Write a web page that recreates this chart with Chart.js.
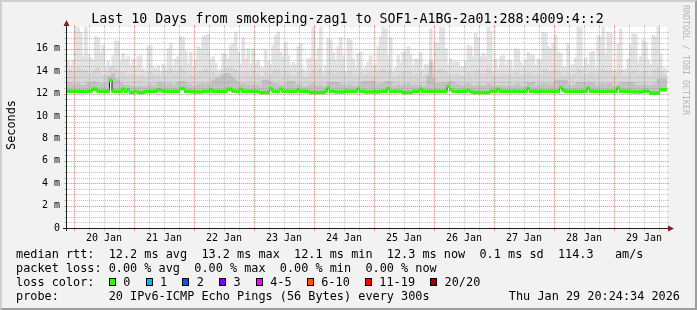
<!DOCTYPE html>
<html>
<head>
<meta charset="utf-8">
<title>smokeping</title>
<script src="https://cdn.jsdelivr.net/npm/chart.js@4.4.1/dist/chart.umd.min.js"></script>
<style>
  html, body { margin: 0; padding: 0; }
  body { position: relative; width: 697px; height: 310px; overflow: hidden; background: #f2f2f2;
         font-family: "DejaVu Sans Mono", monospace; color: #000; }
  #frame { position: absolute; left: 0; top: 0; width: 697px; height: 310px; box-sizing: border-box;
           border: 2px solid; border-color: #cfcfcf #9e9e9e #9e9e9e #cfcfcf; }
  #chart { position: absolute; left: 0; top: 0; }
  .t { position: absolute; white-space: pre; font-size: 11.85px; line-height: 14px; }
  #title { left: 0; width: 695px; top: 11px; text-align: center; font-size: 13.3px; line-height: 16px; }
  #unit { left: -14px; top: 118px; width: 50px; text-align: center; transform: rotate(-90deg); }
  #mark { left: 631px; top: 55px; width: 110px; text-align: center; font-size: 8.3px; line-height: 10px;
          color: rgba(0,0,0,0.28); transform: rotate(90deg); }
  #lossItems { position: absolute; left: 109px; top: 275px; height: 14px; display: flex; align-items: center;
               white-space: pre; font-size: 11.85px; line-height: 14px; }
  .box { width: 7px; height: 8px; box-sizing: border-box; border: 1px solid #000; margin-right: 7.3px; }
  .lbl { margin-right: 15.3px; }
</style>
</head>
<body>
<div id="frame"></div>
<canvas id="chart" width="697" height="310"></canvas>
<div class="t" id="title">Last 10 Days from smokeping-zag1 to SOF1-A1BG-2a01:288:4009:4::2</div>
<div class="t" id="unit">Seconds</div>
<div class="t" id="mark">RRDTOOL / TOBI OETIKER</div>
<div class="t" style="left:16px; top:247px;">median rtt:  12.2 ms avg  13.2 ms max  12.1 ms min  12.3 ms now  0.1 ms sd  114.3   am/s</div>
<div class="t" style="left:16px; top:261px;">packet loss: 0.00 % avg  0.00 % max  0.00 % min  0.00 % now</div>
<div class="t" style="left:16px; top:275px;">loss color:</div>
<div id="lossItems"></div>
<div class="t" style="left:16px; top:289px;">probe:       20 IPv6-ICMP Echo Pings (56 Bytes) every 300s</div>
<div class="t" style="right:17px; top:289px;">Thu Jan 29 20:24:34 2026</div>
<script>
// one column per hour, first column starts 19 Jan 21:12
var hourStart = 21.2;
var dayLabels = ["20 Jan", "21 Jan", "22 Jan", "23 Jan", "24 Jan", "25 Jan", "26 Jan", "27 Jan", "28 Jan", "29 Jan"];

// top of the smoke (slowest ping), ms
var maxRtt = [
  14.9,14.5,15.0,18.0,17.9,17.5,15.3,18.0,15.5,15.2, 15.0,17.1,17.0,15.7,16.3,14.4,14.9,14.2,15.4,16.7,
  16.7,15.0,15.6,15.1,15.3,14.5,15.1,14.4,15.3,15.4, 14.2,14.0,16.2,16.3,14.4,14.2,14.5,14.0,14.6,14.3,
  16.0,16.5,14.5,15.1,15.3,17.1,17.0,15.8,14.7,15.7, 14.4,15.0,16.2,16.0,17.1,17.2,17.3,15.1,15.3,14.7,
  14.1,14.2,15.6,15.5,15.1,16.3,16.5,17.5,15.7,14.6, 17.0,15.1,16.0,14.6,16.0,14.7,15.0,14.4,14.3,15.9,
  14.9,14.6,16.3,17.2,17.5,15.7,15.3,16.6,15.4,14.5, 14.8,14.6,16.2,16.5,14.2,14.0,15.1,15.2,18.0,15.0,
  16.0,17.9,13.9,14.5,16.9,16.8,15.7,15.0,16.2,17.0, 15.4,13.9,16.9,16.8,15.1,14.3,15.6,15.7,14.2,14.4,
  14.8,15.4,14.5,14.6,16.2,17.1,17.9,17.8,15.4,17.0, 13.9,14.3,15.4,14.8,15.7,15.8,16.2,15.5,14.5,15.1,
  15.1,15.7,14.2,14.6,14.5,17.8,14.8,16.6,16.5,18.0, 17.9,16.0,14.5,15.1,14.8,14.9,14.8,14.4,14.4,14.9,
  16.3,16.2,15.3,17.4,17.0,15.3,15.6,15.4,18.0,17.6, 14.0,15.1,14.2,15.3,15.4,14.5,15.0,14.9,14.2,16.0,
  15.9,14.8,14.5,15.0,15.7,15.5,15.4,14.5,15.1,15.0, 17.5,17.4,16.2,16.0,16.5,17.2,15.7,15.6,14.4,14.4,
  16.5,14.5,14.6,15.2,18.0,17.9,14.4,15.2,14.6,15.7, 15.8,14.3,17.2,17.1,18.0,15.5,17.5,17.4,14.0,14.1,
  16.5,17.8,14.1,14.2,15.1,16.4,17.4,17.3,14.8,15.3, 16.8,16.6,15.0,14.6,17.2,17.1,18.0,15.5,14.3,14.2
];

// top of the denser smoke band, ms
var upperRtt = [
  13.9,14.1,13.8,14.0,14.3,14.2,13.9,14.1,13.8,13.7, 13.9,14.2,14.3,13.8,13.6,13.7,14.0,14.4,14.4,14.2,
  14.0,13.8,13.9,13.6,13.7,13.5,13.8,13.6,13.5,13.7, 13.6,13.4,13.9,14.0,13.7,13.6,13.8,13.5,13.9,13.6,
  14.0,14.2,13.7,13.8,13.9,14.3,14.1,13.9,13.6,13.8, 13.5,13.7,14.0,13.9,14.1,14.2,14.0,13.8,13.9,13.7,
  13.6,13.8,14.1,14.2,14.3,14.4,14.2,14.1,13.9,13.7, 13.9,13.8,13.9,13.6,14.0,13.7,13.8,13.5,13.6,13.9,
  13.8,13.7,14.0,14.2,14.1,13.8,13.7,14.0,13.9,13.6, 13.7,13.6,13.9,14.0,13.5,13.4,13.7,13.8,14.1,13.8,
  13.9,14.2,13.4,13.6,14.0,14.1,13.8,13.7,13.9,14.0, 13.8,13.5,13.9,14.0,13.7,13.5,13.8,13.9,13.6,13.7,
  13.8,13.9,13.6,13.7,13.9,14.1,14.2,14.0,13.9,14.1, 13.5,13.6,13.8,13.7,13.9,13.8,14.0,13.9,13.6,13.8,
  13.7,13.9,13.5,13.7,13.8,15.0,13.7,14.0,14.1,14.2, 14.1,13.9,13.6,13.7,13.6,13.8,13.7,13.5,13.6,13.7,
  13.9,13.8,13.7,14.0,14.1,13.8,13.7,13.8,14.2,14.0, 13.5,13.7,13.5,13.8,13.7,13.6,13.7,13.8,13.5,13.9,
  13.8,13.7,13.6,13.8,13.9,13.8,13.7,13.6,13.8,13.7, 14.1,14.2,13.9,13.8,14.0,14.1,14.0,13.9,13.7,13.6,
  13.9,13.6,13.7,13.8,14.2,14.1,13.6,13.8,13.7,13.9, 13.8,13.6,14.0,14.1,14.2,13.8,14.0,14.1,13.5,13.6,
  13.9,14.1,13.5,13.6,13.8,13.9,14.0,14.1,13.7,13.8, 13.9,14.0,13.7,13.6,14.1,14.0,14.3,14.0,13.7,13.6
];

// top of the darkest smoke just above the median, ms
var denseRtt = [
  13.0,12.9,12.8,12.8,12.9,12.8,12.7,12.8,13.0,13.0, 13.1,13.0,13.0,12.8,12.9,12.8,13.5,13.6,13.8,13.4,
  13.2,12.9,12.8,12.7,12.8,12.6,12.7,12.6,12.6,12.7, 12.6,12.6,12.8,12.8,12.7,12.7,13.0,13.0,12.9,12.8,
  12.8,12.9,12.7,12.8,13.0,13.1,13.1,13.0,12.8,12.8, 12.6,12.7,12.8,12.8,12.9,12.8,12.9,12.8,13.2,13.3,
  13.4,13.5,13.7,13.8,13.8,13.6,13.4,13.2,13.0,12.8, 12.9,12.8,12.8,12.7,12.8,12.7,12.8,12.6,13.2,13.2,
  13.2,13.1,12.9,12.9,12.8,12.8,12.7,12.8,13.1,13.1, 13.1,12.8,12.8,12.8,12.6,12.6,12.7,12.8,12.9,12.7,
  12.7,12.8,12.6,12.7,13.0,13.0,13.0,13.0,13.0,12.8, 12.8,12.6,12.8,12.8,12.7,12.6,12.8,12.9,13.1,13.1,
  13.1,13.1,13.1,12.8,12.8,12.9,12.9,13.1,13.1,13.1, 12.6,12.7,12.8,12.7,12.8,12.8,12.9,12.8,12.7,12.8,
  12.7,12.8,12.6,12.7,13.6,14.8,13.4,12.9,12.9,12.9, 13.0,13.0,13.0,13.1,13.0,12.8,12.8,12.7,12.7,12.8,
  12.9,12.8,12.6,12.7,12.8,12.7,12.7,12.7,12.9,12.8, 12.6,12.7,12.7,12.7,12.7,12.6,12.7,12.7,12.6,12.8,
  12.8,12.7,12.6,12.7,13.0,13.0,13.0,12.7,12.8,12.7, 12.9,12.9,12.8,12.8,12.9,13.2,13.2,13.2,13.2,13.2,
  12.8,12.7,12.7,12.8,13.0,13.0,13.0,13.0,13.0,13.0, 13.0,12.7,12.8,12.8,12.9,12.8,12.9,12.9,12.6,12.7,
  12.8,12.9,13.0,13.0,13.0,13.0,13.0,12.8,12.7,12.7, 12.8,12.8,12.7,12.6,12.8,12.8,13.3,13.3,13.3,13.3
];

// median rtt, ms
var medianRtt = [
  12.2,12.2,12.2,12.2,12.2,12.2,12.2,12.2,12.2,12.2, 12.4,12.4,12.2,12.2,12.2,12.2,12.2,13.2,12.2,12.2,
  12.2,12.2,12.4,12.2,12.35,12.1,12.1,12.2,12.1,12.1, 12.1,12.2,12.2,12.2,12.2,12.2,12.35,12.3,12.2,12.2,
  12.2,12.2,12.2,12.2,12.2,12.45,12.45,12.2,12.2,12.2, 12.15,12.15,12.15,12.15,12.2,12.2,12.2,12.35,12.2,12.2,
  12.2,12.2,12.2,12.2,12.4,12.4,12.2,12.2,12.2,12.4, 12.2,12.2,12.2,12.2,12.2,12.2,12.2,12.1,12.1,12.1,
  12.1,12.45,12.2,12.2,12.2,12.4,12.2,12.2,12.2,12.2, 12.2,12.2,12.35,12.2,12.2,12.2,12.2,12.1,12.1,12.1,
  12.1,12.1,12.1,12.2,12.5,12.2,12.2,12.15,12.15,12.15, 12.15,12.2,12.2,12.2,12.2,12.2,12.4,12.2,12.2,12.15,
  12.15,12.15,12.15,12.15,12.15,12.2,12.2,12.2,12.45,12.2, 12.2,12.2,12.2,12.2,12.1,12.1,12.1,12.1,12.2,12.2,
  12.2,12.4,12.2,12.2,12.2,12.2,12.2,12.2,12.2,12.2, 12.2,12.2,12.65,12.35,12.2,12.2,12.2,12.2,12.2,12.2,
  12.3,12.2,12.1,12.1,12.1,12.1,12.1,12.1,12.1,12.2, 12.2,12.2,12.4,12.2,12.2,12.2,12.2,12.2,12.2,12.2,
  12.2,12.2,12.2,12.2,12.45,12.2,12.2,12.2,12.2,12.2, 12.2,12.2,12.2,12.2,12.2,12.2,12.2,12.55,12.3,12.2,
  12.2,12.2,12.2,12.2,12.2,12.2,12.2,12.2,12.5,12.2, 12.2,12.2,12.2,12.2,12.2,12.2,12.2,12.2,12.2,12.2,
  12.5,12.2,12.2,12.2,12.2,12.2,12.15,12.15,12.15,12.15, 12.2,12.2,12.2,12.05,12.05,12.05,12.05,12.35,12.35,12.35
];

var lossLabels = ["0", "1", "2", "3", "4-5", "6-10", "11-19", "20/20"];
var lossColors = ["#26ff00", "#00b8ff", "#0059ff", "#7e00ff", "#ff00ff", "#ff5500", "#ff0000", "#a10000"];

// grid: a faint solid line with stronger dots on it
var minorLine = "rgba(143,143,143,0.1)";
var minorDot = "rgba(143,143,143,0.42)";
var majorLine = "rgba(240,100,100,0.18)";
var majorDot = "rgba(240,100,100,0.6)";

// legend swatches
var lossItems = document.getElementById("lossItems");
lossLabels.forEach(function (l, i) {
  var b = document.createElement("span");
  b.className = "box";
  b.style.background = lossColors[i];
  var s = document.createElement("span");
  s.className = "lbl";
  s.textContent = l;
  lossItems.appendChild(b);
  lossItems.appendChild(s);
});

function band(lo, hi) {
  return hi.map(function (v, i) { return { x: hourStart + i + 0.5, y: [lo[i], v] }; });
}
var halfLine = 0.12;
var medianBand = medianRtt.map(function (m, i) { return { x: hourStart + i + 0.5, y: [m - halfLine, m + halfLine] }; });
var medianLine = medianRtt.map(function (m, i) { return { x: hourStart + i + 0.5, y: m }; });

var barOpts = { type: "bar", grouped: false, barThickness: 3, borderWidth: 0 };

var plotBg = {
  id: "plotBg",
  beforeDraw: function (chart) {
    var a = chart.chartArea, ctx = chart.ctx;
    ctx.save();
    ctx.fillStyle = "#ffffff";
    ctx.fillRect(a.left, a.top, a.right - a.left, a.bottom - a.top);
    ctx.restore();
  }
};

function gridLine(ctx, x1, y1, x2, y2, line, dot) {
  ctx.setLineDash([]);
  ctx.strokeStyle = line;
  ctx.beginPath(); ctx.moveTo(x1, y1); ctx.lineTo(x2, y2); ctx.stroke();
  ctx.setLineDash([1, 1]);
  ctx.strokeStyle = dot;
  ctx.beginPath(); ctx.moveTo(x1, y1); ctx.lineTo(x2, y2); ctx.stroke();
  ctx.setLineDash([]);
}

// rrdtool look: dotted grid over the smoke, then axes and arrows
var frameLines = {
  id: "frameLines",
  afterDraw: function (chart) {
    var a = chart.chartArea, ctx = chart.ctx;
    var xs = chart.scales.x, ys = chart.scales.y;
    var L = Math.round(a.left), R = Math.round(a.right), T = Math.round(a.top), B = Math.round(a.bottom);
    ctx.save();
    ctx.lineWidth = 1;
    ys.ticks.forEach(function (t) {
      if (t.value === 0) return;
      var y = Math.round(ys.getPixelForValue(t.value)) + 0.5;
      var major = t.value % 2 === 0;
      gridLine(ctx, L, y, R, y, major ? majorLine : minorLine, major ? majorDot : minorDot);
      ctx.strokeStyle = major ? majorDot : minorDot;
      ctx.beginPath(); ctx.moveTo(L - 3, y); ctx.lineTo(L, y); ctx.moveTo(R, y); ctx.lineTo(R + 2, y); ctx.stroke();
    });
    xs.ticks.forEach(function (t) {
      var x = Math.round(xs.getPixelForValue(t.value)) + 0.5;
      var major = Math.round(t.value) % 24 === 0;
      gridLine(ctx, x, T, x, B, major ? majorLine : minorLine, major ? majorDot : minorDot);
      ctx.strokeStyle = major ? majorDot : minorDot;
      ctx.beginPath(); ctx.moveTo(x, B); ctx.lineTo(x, B + 3); ctx.moveTo(x, T - 2); ctx.lineTo(x, T); ctx.stroke();
    });
    ctx.strokeStyle = "#1f1f1f";
    ctx.beginPath();
    ctx.moveTo(L - 4, B + 0.5); ctx.lineTo(R + 4, B + 0.5);
    ctx.moveTo(L - 0.5, B + 3); ctx.lineTo(L - 0.5, T - 4);
    ctx.stroke();
    ctx.fillStyle = "#802020";
    ctx.beginPath();
    ctx.moveTo(L - 0.5, T - 7); ctx.lineTo(L - 3.5, T - 1); ctx.lineTo(L + 2.5, T - 1);
    ctx.closePath(); ctx.fill();
    ctx.beginPath();
    ctx.moveTo(R + 7, B + 0.5); ctx.lineTo(R + 1, B - 2.5); ctx.lineTo(R + 1, B + 3.5);
    ctx.closePath(); ctx.fill();
    ctx.restore();
  }
};

var tickFont = { family: "DejaVu Sans Mono", size: 10 };

new Chart(document.getElementById("chart"), {
  type: "bar",
  data: {
    datasets: [
      Object.assign({ label: "median", data: medianBand, backgroundColor: lossColors[0], order: 1 }, barOpts),
      { type: "line", label: "median line", data: medianLine, stepped: "middle", borderColor: "#202020",
        borderWidth: 1, pointRadius: 0, fill: false, order: 2 },
      Object.assign({ label: "dense", data: band(medianRtt, denseRtt), backgroundColor: "#c2c2c2", order: 3 }, barOpts),
      Object.assign({ label: "upper", data: band(denseRtt, upperRtt), backgroundColor: "#d7d7d7", order: 4 }, barOpts),
      Object.assign({ label: "max", data: band(upperRtt, maxRtt), backgroundColor: "#e3e3e3", order: 5 }, barOpts)
    ]
  },
  options: {
    responsive: false,
    animation: false,
    devicePixelRatio: 1,
    layout: { padding: { left: 0, top: 27, right: 30, bottom: 0 } },
    plugins: { legend: { display: false }, tooltip: { enabled: false }, title: { display: false } },
    scales: {
      x: {
        type: "linear",
        min: hourStart,
        max: hourStart + 240,
        offset: false,
        afterFit: function (s) { s.height = 82; },
        afterBuildTicks: function (s) {
          var t = [];
          for (var h = 24; h < s.max; h += 6) t.push({ value: h });
          s.ticks = t;
        },
        ticks: {
          autoSkip: false, maxRotation: 0, padding: 4, color: "#000", font: tickFont,
          callback: function (v) {
            v = Math.round(v);
            return v % 24 === 12 ? dayLabels[(v - 12) / 24 - 1] : "";
          }
        },
        grid: { display: false, offset: false, drawTicks: false },
        border: { display: false }
      },
      y: {
        min: 0,
        max: 17.95,
        afterFit: function (s) { s.width = 67; },
        ticks: {
          stepSize: 0.5, includeBounds: false, autoSkip: false, padding: 7, color: "#000", font: tickFont,
          callback: function (v) {
            if (v % 2 !== 0) return "";
            return v === 0 ? "0" : v + " m";
          }
        },
        grid: { display: false, drawTicks: false },
        border: { display: false }
      }
    }
  },
  plugins: [plotBg, frameLines]
});
</script>
</body>
</html>
